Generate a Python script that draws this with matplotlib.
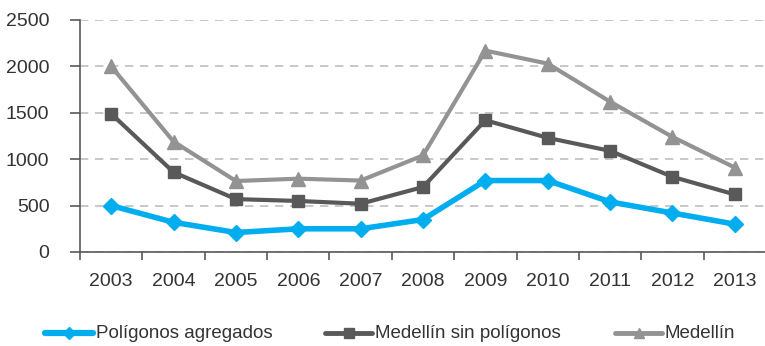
import numpy as np
import matplotlib
matplotlib.use("Agg")
import matplotlib.pyplot as plt
from matplotlib.lines import Line2D

years = ["2003", "2004", "2005", "2006", "2007", "2008", "2009", "2010", "2011", "2012", "2013"]
poligonos = [500, 320, 210, 250, 250, 350, 770, 770, 540, 420, 300]
sin_poligonos = [1490, 860, 570, 550, 520, 700, 1420, 1230, 1090, 810, 620]
medellin = [2000, 1190, 765, 790, 770, 1040, 2170, 2030, 1620, 1240, 910]

plt.rcParams["font.family"] = ["Liberation Sans", "DejaVu Sans"]

W, H = 765, 346
fig = plt.figure(figsize=(W / 100, H / 100), dpi=100)
ax = fig.add_axes([80 / W, 1 - 252 / H, 686 / W, 232 / H])

x = np.arange(len(years))
series = [
    ("Medellín", medellin, "#939393", 3, "^", 10),
    ("Medellín sin polígonos", sin_poligonos, "#595959", 3, "s", 9),
    ("Polígonos agregados", poligonos, "#00AEEF", 4, "D", 8),
]
for i, (name, vals, col, lw, mk, ms) in enumerate(series):
    ax.plot(x, vals, color=col, lw=lw, marker=mk, ms=ms, zorder=3 + i)

ax.set_ylim(0, 2500)
ax.set_yticks(range(0, 2501, 500))
ax.set_xlim(-0.5, len(years) - 0.5)
ax.set_xticks(x)
ax.set_xticklabels(years)
ax.set_xticks(np.arange(-0.5, len(years), 1), minor=True)

ax.yaxis.grid(True, color="#BFBFBF", ls=(0, (5, 4)), lw=1.2)
ax.set_axisbelow(True)
for s in ["top", "right"]:
    ax.spines[s].set_visible(False)
for s in ["left", "bottom"]:
    ax.spines[s].set_color("#595959")
    ax.spines[s].set_linewidth(1.2)

ax.tick_params(axis="x", which="major", length=0, pad=15, labelsize=14, colors="#333333")
ax.tick_params(axis="x", which="minor", length=6, width=1.2, color="#595959", direction="out")
ax.tick_params(axis="y", length=7, width=1.2, color="#595959", pad=15, labelsize=14, labelcolor="#333333")

# legend drawn by hand: short line with a small marker, then the label
legend_pos = {"Polígonos agregados": (45, 93), "Medellín sin polígonos": (325, 372), "Medellín": (615, 662)}
ly = 1 - 333 / H
for name, vals, col, lw, mk, ms in series:
    x0, x1 = legend_pos[name]
    fig.add_artist(Line2D([x0 / W, x1 / W], [ly, ly], transform=fig.transFigure,
                          color=col, lw=lw + 0.5, solid_capstyle="round"))
    fig.add_artist(Line2D([(x0 + x1) / 2 / W], [ly], transform=fig.transFigure,
                          color=col, marker=mk, ms=ms * 0.75, lw=0))
    fig.text((x1 + 3) / W, ly, name, fontsize=13.5, color="#333333", va="center", ha="left")

fig.savefig("out.png", dpi=100)
